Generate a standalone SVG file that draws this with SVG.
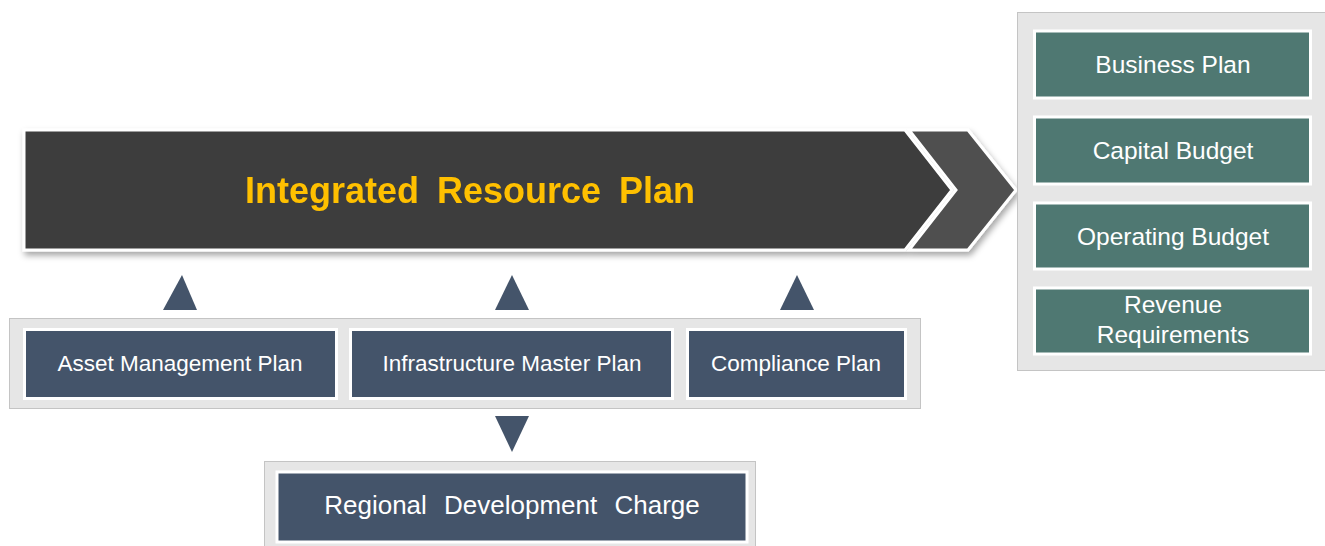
<svg xmlns="http://www.w3.org/2000/svg" width="1325" height="546" viewBox="0 0 1325 546">
<defs>
<filter id="sh" x="-5%" y="-20%" width="110%" height="150%">
<feDropShadow dx="2" dy="4" stdDeviation="3" flood-color="#000" flood-opacity="0.35"/>
</filter>
<style>
.panel{fill:#E6E6E6;stroke:#C4C4C4;stroke-width:1}
.slate{fill:#44546A;stroke:#FFFFFF;stroke-width:3}
.teal{fill:#4F7872;stroke:#FFFFFF;stroke-width:3}
.tri{fill:#44546A}
.lbl{font-family:"Liberation Sans",Arial,sans-serif;fill:#FFFFFF;text-anchor:middle}
.bot{font-size:22.5px}
.right{font-size:24.5px}
</style>
</defs>
<rect width="1325" height="546" fill="#FFFFFF"/>

<g id="irp" filter="url(#sh)">
<polygon points="24,130 905,130 952,190 905,250 24,250" fill="#3C3C3C" stroke="#FFFFFF" stroke-width="3"/>
<polygon points="909,130 968,130 1016,190 968,250 909,250 956,190" fill="#505050" stroke="#FFFFFF" stroke-width="3"/>
<text x="470" y="203" font-family="'Liberation Sans',Arial,sans-serif" font-weight="bold" font-size="36" fill="#FFC000" text-anchor="middle" word-spacing="8">Integrated Resource Plan</text>
</g>

<g id="outputs">
<rect class="panel" x="1017.5" y="12.5" width="308" height="358"/>
<g id="business-plan">
<rect class="teal" x="1034.5" y="31" width="276" height="67"/>
<text class="lbl right" x="1173" y="73">Business Plan</text>
</g>
<g id="capital-budget">
<rect class="teal" x="1034.5" y="117" width="276" height="67"/>
<text class="lbl right" x="1173" y="159">Capital Budget</text>
</g>
<g id="operating-budget">
<rect class="teal" x="1034.5" y="203" width="276" height="66"/>
<text class="lbl right" x="1173" y="245">Operating Budget</text>
</g>
<g id="revenue-requirements">
<rect class="teal" x="1034.5" y="288" width="276" height="66"/>
<text class="lbl right" x="1173" y="313">Revenue</text>
<text class="lbl right" x="1173" y="343">Requirements</text>
</g>
</g>

<g id="inputs">
<rect class="panel" x="9.5" y="318.5" width="911" height="90"/>
<g id="asset-management-plan">
<rect class="slate" x="24.5" y="329.5" width="312" height="69"/>
<text class="lbl bot" x="180" y="371">Asset Management Plan</text>
</g>
<g id="infrastructure-master-plan">
<rect class="slate" x="350.5" y="329.5" width="322" height="69"/>
<text class="lbl bot" x="512" y="371">Infrastructure Master Plan</text>
</g>
<g id="compliance-plan">
<rect class="slate" x="687.5" y="329.5" width="218" height="69"/>
<text class="lbl bot" x="796" y="371">Compliance Plan</text>
</g>
</g>

<g id="regional-development-charge">
<rect class="panel" x="264.5" y="461.5" width="491" height="95"/>
<rect class="slate" x="277" y="472" width="470" height="70" stroke-width="2"/>
<text class="lbl" x="512" y="514" font-size="26" word-spacing="10">Regional Development Charge</text>
</g>

<g id="connectors">
<polygon class="tri" points="163,310 182,275 197,310"/>
<polygon class="tri" points="495,310 512,275 529,310"/>
<polygon class="tri" points="780,310 797,275 814,310"/>
<polygon class="tri" points="495,416 529,416 512,452"/>
</g>
</svg>
